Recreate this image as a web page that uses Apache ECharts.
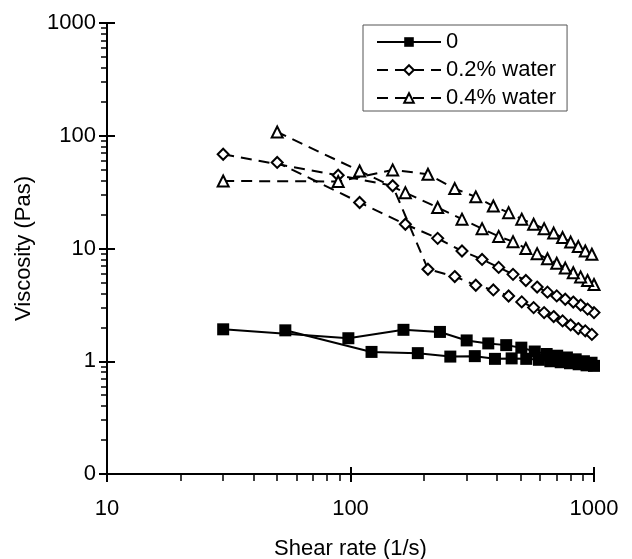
<!DOCTYPE html>
<html><head><meta charset="utf-8">
<script src="https://cdn.jsdelivr.net/npm/echarts@6/dist/echarts.min.js"></script>
<style>html,body{margin:0;padding:0;background:#fff}#c{width:632px;height:559px}</style>
</head><body><div id="c"></div>
<script>
// ---- data ----
const seriesNames = ['0', '0.2% water', '0.4% water'];

// sample "0": increasing and decreasing shear-rate ramps
const xUp0 = [30, 98, 165, 233, 300, 368, 436, 503, 571, 639, 706, 774, 841, 909, 977];
const yUp0 = [1.92, 1.60, 1.90, 1.82, 1.53, 1.44, 1.39, 1.32, 1.22, 1.16, 1.12, 1.08, 1.04, 1.00, 0.97];
const xDown0 = [1000, 932, 865, 797, 730, 662, 594, 527, 459, 392, 324, 257, 189, 122, 54];
const yDown0 = [0.91, 0.92, 0.94, 0.96, 0.98, 1.00, 1.03, 1.05, 1.06, 1.05, 1.11, 1.10, 1.18, 1.21, 1.88];

// samples with water: shear-rate ramps
const xUpW = [30, 89, 149, 208, 268, 327, 386, 446, 505, 565, 624, 683, 743, 802, 862, 921, 980];
const xDownW = [1000, 941, 881, 822, 762, 703, 644, 584, 525, 465, 406, 347, 287, 228, 168, 109, 50];

const yUp02 = [68.5, 44.6, 36, 6.55, 5.64, 4.72, 4.29, 3.79, 3.36, 2.99, 2.70, 2.49, 2.28, 2.10, 1.95, 1.86, 1.73];
const yDown02 = [2.7, 2.9, 3.15, 3.35, 3.55, 3.8, 4.1, 4.55, 5.2, 5.9, 6.8, 8.0, 9.5, 12.3, 16.4, 25.6, 58];

const yUp04 = [39.7, 39.3, 49.8, 45.6, 34, 28.7, 23.8, 20.8, 18.2, 16.4, 15.0, 13.7, 12.5, 11.4, 10.4, 9.5, 8.9];
const yDown04 = [4.8, 5.2, 5.6, 6.1, 6.7, 7.4, 8.1, 9.0, 10.0, 11.5, 12.8, 15.0, 18.2, 23.1, 31.3, 48.7, 108];

// axes
const xMajor = [10, 100, 1000];
const xMajorLabels = ['10', '100', '1000'];
const xMinor = [20, 30, 40, 50, 60, 70, 80, 90, 200, 300, 400, 500, 600, 700, 800, 900];
const yMajor = [0.1, 1, 10, 100, 1000];
const yMajorLabels = ['0', '1', '10', '100', '1000'];
const yMinor = [0.2, 0.3, 0.4, 0.5, 0.6, 0.7, 0.8, 0.9, 2, 3, 4, 5, 6, 7, 8, 9,
                20, 30, 40, 50, 60, 70, 80, 90, 200, 300, 400, 500, 600, 700, 800, 900];
const xTitle = 'Shear rate (1/s)';
const yTitle = 'Viscosity (Pas)';

// ---- chart ----
const FONT = '"Liberation Sans", Arial, Helvetica, sans-serif';
const BLACK = '#000';
function pairs(xs, ys) { return xs.map((x, i) => [x, ys[i]]); }
function labelFor(v, vals, labels) {
  let best = 0, bd = Infinity;
  vals.forEach((t, i) => { const d = Math.abs(Math.log10(v) - Math.log10(t)); if (d < bd) { bd = d; best = i; } });
  return labels[best];
}

const baseX = { type: 'log', logBase: 10, min: 10, max: 1000, position: 'bottom', splitLine: { show: false } };
const baseY = { type: 'log', logBase: 10, min: 0.1, max: 1000, position: 'left', splitLine: { show: false } };
const tickStyle = { color: BLACK, width: 2 };
const minorStyle = { color: BLACK, width: 1.5 };

const xAxis = [
  Object.assign({}, baseX, {
    axisLine: { show: true, onZero: false, lineStyle: { color: BLACK, width: 2 } },
    axisTick: { show: true, customValues: xMajor, inside: false, length: 8, lineStyle: tickStyle },
    axisLabel: { show: true, customValues: xMajor, formatter: v => labelFor(v, xMajor, xMajorLabels),
                 color: BLACK, fontSize: 22, fontFamily: FONT, margin: 24 },
    name: xTitle, nameLocation: 'middle', nameGap: 64,
    nameTextStyle: { color: BLACK, fontSize: 22, fontFamily: FONT }
  }),
  Object.assign({}, baseX, {
    axisLine: { show: false, onZero: false },
    axisTick: { show: true, customValues: xMajor, inside: true, length: 7, lineStyle: tickStyle },
    axisLabel: { show: false }
  }),
  Object.assign({}, baseX, {
    axisLine: { show: false, onZero: false },
    axisTick: { show: true, customValues: xMinor, inside: false, length: 7, lineStyle: minorStyle },
    axisLabel: { show: false }
  })
];

const yAxis = [
  Object.assign({}, baseY, {
    axisLine: { show: true, onZero: false, lineStyle: { color: BLACK, width: 2 } },
    axisTick: { show: true, customValues: yMajor, inside: false, length: 8, lineStyle: tickStyle },
    axisLabel: { show: true, customValues: yMajor, formatter: v => labelFor(v, yMajor, yMajorLabels),
                 color: BLACK, fontSize: 22, fontFamily: FONT, margin: 11 },
    name: yTitle, nameLocation: 'middle', nameGap: 72, nameRotate: 90,
    nameTextStyle: { color: BLACK, fontSize: 22, fontFamily: FONT }
  }),
  Object.assign({}, baseY, {
    axisLine: { show: false, onZero: false },
    axisTick: { show: true, customValues: yMajor, inside: true, length: 8, lineStyle: tickStyle },
    axisLabel: { show: false }
  }),
  Object.assign({}, baseY, {
    axisLine: { show: false, onZero: false },
    axisTick: { show: true, customValues: yMinor, inside: false, length: 6, lineStyle: minorStyle },
    axisLabel: { show: false }
  })
];

const dash = [11, 7];
function mk(name, data, symbol, size, filled, dashed) {
  return {
    name: name, type: 'line', data: data, xAxisIndex: 0, yAxisIndex: 0,
    symbol: symbol, symbolSize: size, showAllSymbol: true,
    lineStyle: { color: BLACK, width: 2, type: dashed ? dash : 'solid' },
    itemStyle: filled ? { color: BLACK, borderColor: BLACK, borderWidth: 0 }
                      : { color: '#fff', borderColor: BLACK, borderWidth: 2 },
    emphasis: { disabled: true }, animation: false, z: 3
  };
}

const series = [
  mk(seriesNames[0], pairs(xUp0, yUp0), 'rect', 12, true, false),
  mk(seriesNames[0], pairs(xDown0, yDown0), 'rect', 12, true, false),
  mk(seriesNames[1], pairs(xUpW, yUp02), 'diamond', 11, false, true),
  mk(seriesNames[1], pairs(xDownW, yDown02), 'diamond', 11, false, true),
  mk(seriesNames[2], pairs(xUpW, yUp04), 'triangle', 11, false, true),
  mk(seriesNames[2], pairs(xDownW, yDown04), 'triangle', 11, false, true)
];

const chart = echarts.init(document.getElementById('c'), null, { renderer: 'canvas' });
chart.setOption({
  animation: false,
  backgroundColor: '#fff',
  grid: { left: 107, right: 38, top: 23, bottom: 85, containLabel: false, outerBoundsMode: 'none' },
  legend: {
    data: seriesNames, orient: 'vertical', left: 363, top: 25,
    padding: [6, 11, 2, 13], itemGap: 6, itemWidth: 64, itemHeight: 12,
    borderColor: '#555', borderWidth: 1, backgroundColor: '#fff',
    textStyle: { fontSize: 22, fontFamily: FONT, color: BLACK },
    selectedMode: false
  },
  tooltip: { show: false },
  xAxis: xAxis,
  yAxis: yAxis,
  series: series
});
</script>
</body></html>
